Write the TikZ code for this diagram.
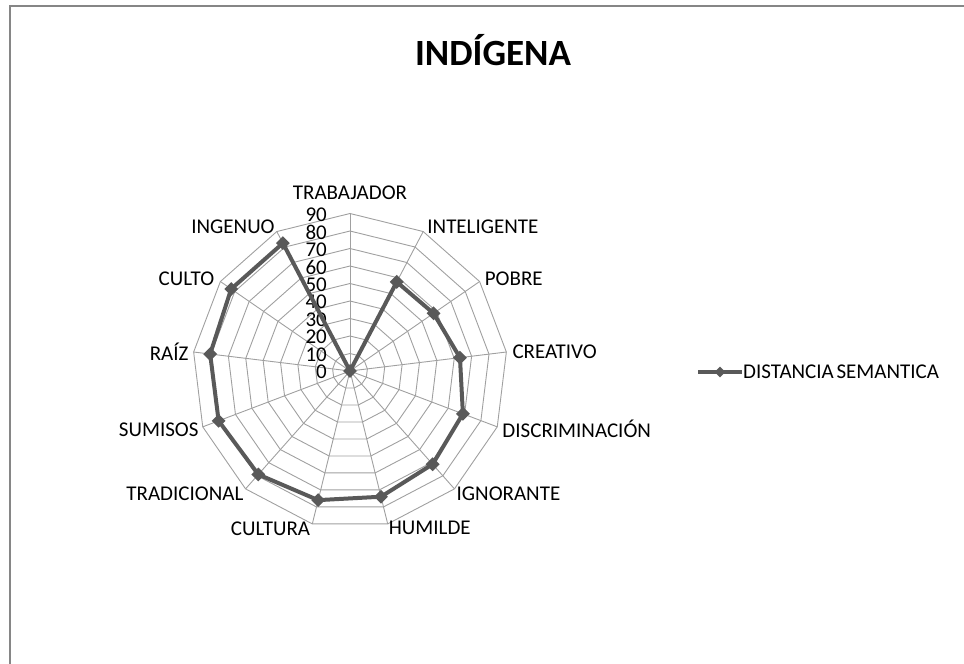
\documentclass[tikz,border=0pt]{standalone}
\usepackage{fontspec}
\setmainfont{Carlito}
\usetikzlibrary{shapes.geometric,positioning,calc}
\definecolor{gridgray}{HTML}{A0A0A0}
\definecolor{seriesgray}{HTML}{595959}
\definecolor{framegray}{HTML}{868686}
\newcommand{\axisfont}{\fontsize{21}{21}\selectfont}
\newcommand{\titlefont}{\fontsize{37}{37}\selectfont\bfseries}

\begin{document}
\begin{tikzpicture}[x=1pt,y=1pt,
		gridLine/.style={gridgray, line width=0.9pt},
		series/.style={seriesgray, line width=4pt, line join=round},
		marker/.style={diamond, fill=seriesgray, inner sep=0pt, minimum size=14pt},
		axisLabel/.style={font=\axisfont, inner sep=2pt},
		tickLabel/.style={font=\axisfont, anchor=east, inner sep=0pt},
		frame/.style={framegray, line width=2pt}]
		
		\useasboundingbox (0,0) rectangle (964,664);
		\draw [frame] (9.5,-5) -- (9.5,658) -- (970,658);
		
		\node [font=\titlefont] (title) at (493,614) {INDÍGENA};
		
		\coordinate (root) at (350,293);
		
		% rings and spokes
		\foreach \r in {1,...,9}
		{\draw [gridLine, shift={(root)}] (90:\r*17.5) \foreach \k in {1,...,12} {-- ({90-\k*360/13}:{\r*17.5})} -- cycle;}
		\foreach \k in {0,...,12}
		{\draw [gridLine] (root) -- ++({90-\k*360/13}:157.5) coordinate (v\k);}
		
		% scale
		\foreach \r in {0,...,9}
		{\node [tickLabel] (tick\r) at ($(root)+(-23,\r*17.5-1)$) {\pgfmathparse{int(\r*10)}\pgfmathresult};}
		
		% axis names
		\foreach \k/\name/\anc/\dx/\dy in {0/TRABAJADOR/south/0/12, 1/INTELIGENTE/west/2/5, 2/POBRE/west/3/3,
			3/CREATIVO/west/4/0, 4/DISCRIMINACIÓN/west/3/-2, 5/IGNORANTE/west/0/-5, 6/HUMILDE/west/-1/-4,
			7/CULTURA/east/0/-5, 8/TRADICIONAL/east/0/-5, 9/SUMISOS/east/-2/-3, 10/RAÍZ/east/-3/0,
			11/CULTO/east/-4/3, 12/INGENUO/east/0/5}
		{\node [axisLabel, anchor=\anc] (name\k) at ($(v\k)+(\dx,\dy)$) {\name};}
		
		% series
		\foreach \k/\val in {0/0, 1/57.5, 2/58, 3/63.3, 4/69, 5/71.2, 6/74, 7/76, 8/79, 9/80.3, 10/80.5, 11/82.5, 12/82.5}
		{\coordinate (p\k) at ($(root)+({90-\k*360/13}:{\val*1.75})$);}
		\draw [series] (p0) \foreach \k in {1,...,12} {-- (p\k)} -- cycle;
		\foreach \k in {0,...,12}
		{\node [marker] (m\k) at (p\k) {};}
		
		% legend
		\coordinate (keyA) at (698,292);
		\coordinate (keyB) at (742,292);
		\draw [series, line width=4.5pt] (keyA) -- (keyB);
		\node [marker, minimum size=11pt] (keyMark) at ($(keyA)!0.5!(keyB)$) {};
		\node [axisLabel, anchor=west, inner sep=1pt] (legend) at (keyB) {DISTANCIA\hspace{-2pt} SEMANTICA};
	\end{tikzpicture}
\end{document}
